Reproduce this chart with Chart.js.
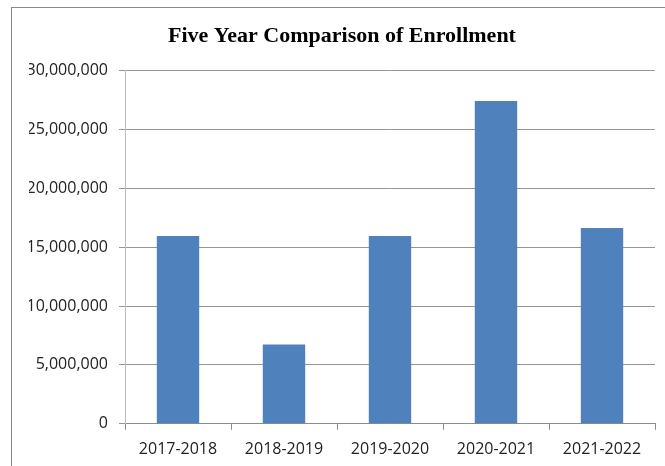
<!DOCTYPE html>
<html>
<head>
<meta charset="utf-8">
<title>Five Year Comparison of Enrollment</title>
<script src="https://cdn.jsdelivr.net/npm/chart.js@4/dist/chart.umd.min.js"></script>
<style>
  html, body { margin: 0; padding: 0; background: #fff; overflow: hidden; width: 665px; height: 466px; }
  #frame { position: absolute; left: 11px; top: 7px; border: 1px solid #8a8a8a; width: 660px; height: 470px; }
</style>
</head>
<body>
<div id="frame"><canvas id="enrollmentChart" width="660" height="470"></canvas></div>
<script>
// school years shown on the x axis
const years = ['2017-2018', '2018-2019', '2019-2020', '2020-2021', '2021-2022'];
// total enrollment per year
const enrollment = [15950000, 6740000, 15950000, 27400000, 16630000];
// y axis range
const yMax = 30000000;
const yStep = 5000000;

document.addEventListener('DOMContentLoaded', function () {
    const ctx = document.getElementById('enrollmentChart').getContext('2d');
    new Chart(ctx, {
        type: 'bar',
        data: {
            labels: years,
            datasets: [{
                label: 'Enrollment',
                data: enrollment,
                backgroundColor: '#4f81bd',
                borderWidth: 0,
                barPercentage: 0.4,
                categoryPercentage: 1
            }]
        },
        options: {
            responsive: false,
            animation: false,
            // equal left/right padding keeps the title centred on the frame
            layout: { padding: { left: 17, right: 17, top: 0, bottom: 9 } },
            plugins: {
                legend: { display: false },
                tooltip: { enabled: false },
                title: {
                    display: true,
                    text: 'Five Year Comparison of Enrollment',
                    color: '#000',
                    font: { family: '"Liberation Serif", "Times New Roman", serif', size: 22, weight: 'bold' },
                    padding: { top: 15, bottom: 21 }
                }
            },
            scales: {
                x: {
                    offset: true,
                    grid: {
                        offset: true,
                        drawOnChartArea: false,
                        drawTicks: true,
                        tickLength: 6,
                        color: '#8c8c8c'
                    },
                    border: { color: '#8c8c8c' },
                    ticks: {
                        color: '#222',
                        padding: 10,
                        maxRotation: 0,
                        font: { family: '"Open Sans", sans-serif', size: 16 }
                    }
                },
                y: {
                    min: 0,
                    max: yMax,
                    afterFit: function (scale) { scale.width = 96; },
                    grid: {
                        color: '#969696',
                        tickLength: 6
                    },
                    border: { color: '#bfbfbf' },
                    ticks: {
                        stepSize: yStep,
                        color: '#222',
                        padding: 11,
                        font: { family: '"Open Sans", sans-serif', size: 16 },
                        callback: function (value) { return value.toLocaleString('en-US'); }
                    }
                }
            }
        }
    });
});
</script>
</body>
</html>
